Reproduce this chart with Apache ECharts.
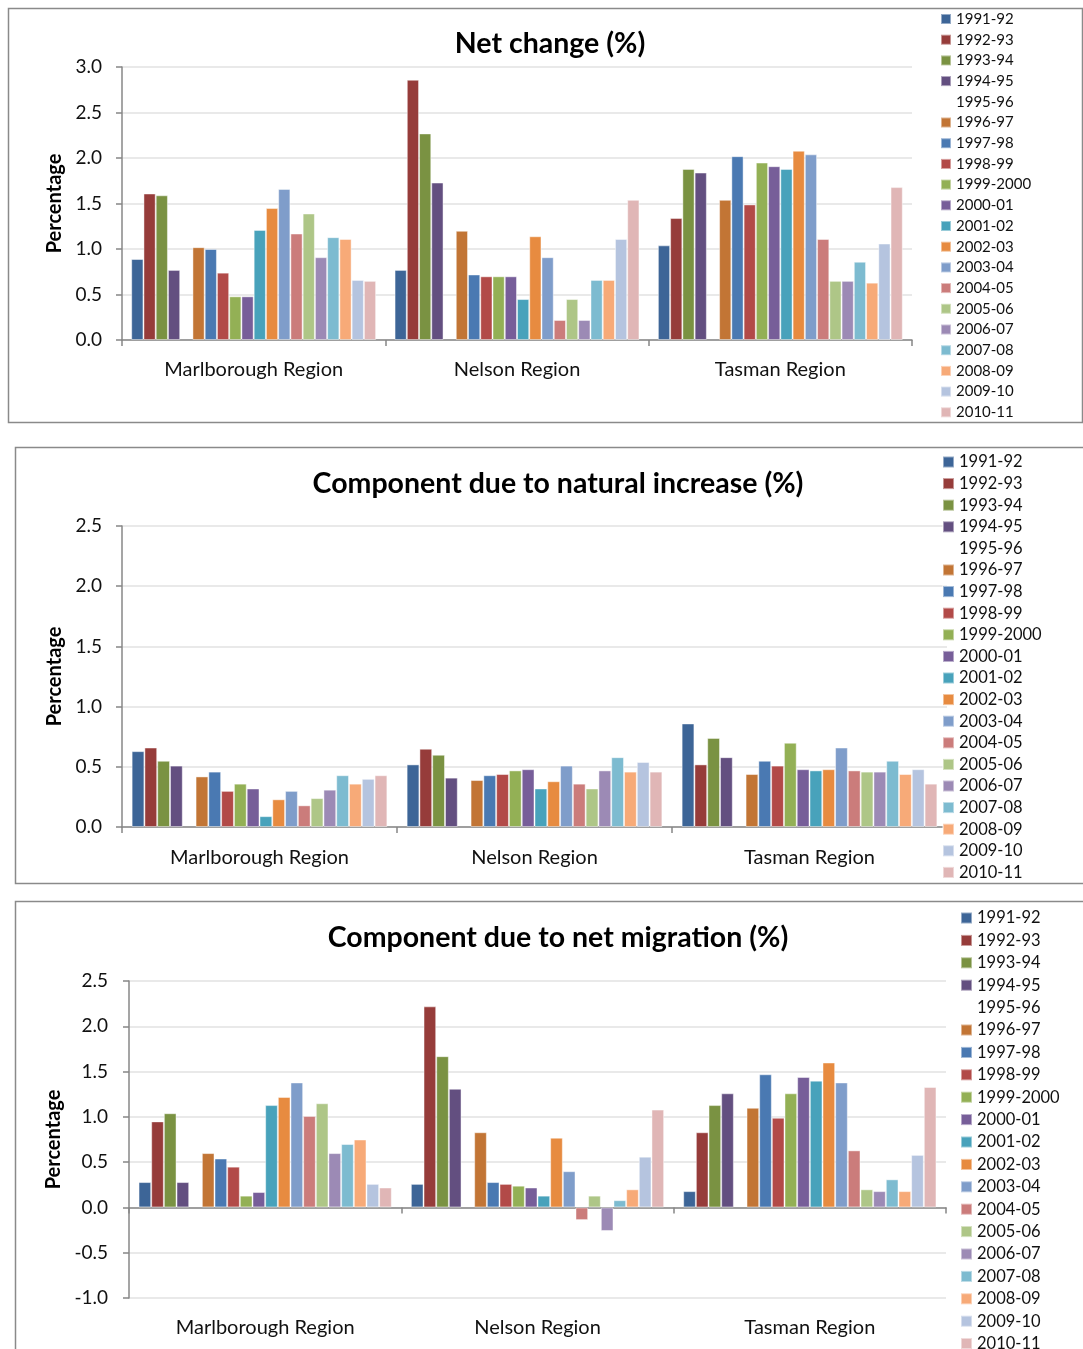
<!DOCTYPE html>
<html>
<head>
<meta charset="utf-8">
<title>Population change by region</title>
<script src="https://cdn.jsdelivr.net/npm/echarts@6/dist/echarts.min.js"></script>
<style>
  html, body { margin: 0; padding: 0; background: #ffffff; }
  #chart { width: 1083px; height: 1349px; }
</style>
</head>
<body>
<div id="chart"></div>
<script>
// Regions on the category axis
const regions = ['Marlborough Region', 'Nelson Region', 'Tasman Region'];

// Years ending 30 June (one bar series each); 1995-96 has no figures
const years = ['1991-92', '1992-93', '1993-94', '1994-95', '1995-96', '1996-97', '1997-98',
  '1998-99', '1999-2000', '2000-01', '2001-02', '2002-03', '2003-04', '2004-05', '2005-06',
  '2006-07', '2007-08', '2008-09', '2009-10', '2010-11'];

// Net change (%)
const netMarlborough = [0.89, 1.61, 1.59, 0.77, null, 1.02, 1.00, 0.74, 0.48, 0.48, 1.21, 1.45, 1.66, 1.17, 1.39, 0.91, 1.13, 1.11, 0.66, 0.65];
const netNelson      = [0.77, 2.86, 2.27, 1.73, null, 1.20, 0.72, 0.70, 0.70, 0.70, 0.45, 1.14, 0.91, 0.22, 0.45, 0.22, 0.66, 0.66, 1.11, 1.54];
const netTasman      = [1.04, 1.34, 1.88, 1.84, null, 1.54, 2.02, 1.49, 1.95, 1.91, 1.88, 2.08, 2.04, 1.11, 0.65, 0.65, 0.86, 0.63, 1.06, 1.68];

// Component due to natural increase (%)
const natMarlborough = [0.63, 0.66, 0.55, 0.51, null, 0.42, 0.46, 0.30, 0.36, 0.32, 0.09, 0.23, 0.30, 0.18, 0.24, 0.31, 0.43, 0.36, 0.40, 0.43];
const natNelson      = [0.52, 0.65, 0.60, 0.41, null, 0.39, 0.43, 0.44, 0.47, 0.48, 0.32, 0.38, 0.51, 0.36, 0.32, 0.47, 0.58, 0.46, 0.54, 0.46];
const natTasman      = [0.86, 0.52, 0.74, 0.58, null, 0.44, 0.55, 0.51, 0.70, 0.48, 0.47, 0.48, 0.66, 0.47, 0.46, 0.46, 0.55, 0.44, 0.48, 0.36];

// Component due to net migration (%)
const migMarlborough = [0.28, 0.95, 1.04, 0.28, null, 0.60, 0.54, 0.45, 0.13, 0.17, 1.13, 1.22, 1.38, 1.01, 1.15, 0.60, 0.70, 0.75, 0.26, 0.22];
const migNelson      = [0.26, 2.22, 1.67, 1.31, null, 0.83, 0.28, 0.26, 0.24, 0.22, 0.13, 0.77, 0.40, -0.14, 0.13, -0.26, 0.08, 0.20, 0.56, 1.08];
const migTasman      = [0.18, 0.83, 1.13, 1.26, null, 1.10, 1.47, 0.99, 1.26, 1.44, 1.40, 1.60, 1.38, 0.63, 0.20, 0.18, 0.31, 0.18, 0.58, 1.33];

// One colour per year
const palette = ['#3d6597', '#963c3a', '#7a9242', '#634f80', 'rgba(0,0,0,0)', '#c27535', '#4a79b2',
  '#b24a48', '#93b055', '#775e99', '#48a2bb', '#e78b40', '#7f9dca', '#cb7c7b', '#aec687',
  '#9c8ab5', '#7dbbd0', '#f7aa78', '#b5c4df', '#e0b6b6'];

const FONT = 'Lato, "Noto Sans", sans-serif';
const AXIS_GREY = '#878787';

// Layout of the three framed panels
const panels = [
  {
    title: 'Net change (%)', values: [netMarlborough, netNelson, netTasman],
    frame: { x: 8, y: 8, w: 1074, h: 414 },
    titlePos: [550, 44],
    grid: { left: 122, top: 67, width: 790, height: 273 },
    yMin: 0, yMax: 3, yLabelMargin: 20, nameGap: 53, xLabelMargin: 20,
    legend: { left: 940, top: 11.5, gap: 5.7, font: 15, icon: 10 },
    zeroAxisSeparate: false
  },
  {
    title: 'Component due to natural increase (%)', values: [natMarlborough, natNelson, natTasman],
    frame: { x: 15, y: 447, w: 1080, h: 436 },
    titlePos: [558, 484],
    grid: { left: 122, top: 526, width: 825, height: 301 },
    yMin: 0, yMax: 2.5, yLabelMargin: 20, nameGap: 53, xLabelMargin: 21,
    legend: { left: 942, top: 453.5, gap: 4.6, font: 16.5, icon: 11 },
    zeroAxisSeparate: false
  },
  {
    title: 'Component due to net migration (%)', values: [migMarlborough, migNelson, migTasman],
    frame: { x: 15, y: 901, w: 1080, h: 470 },
    titlePos: [558, 938],
    grid: { left: 129, top: 981, width: 817, height: 317 },
    yMin: -1, yMax: 2.5, yLabelMargin: 21, nameGap: 60, xLabelMargin: 20,
    legend: { left: 960, top: 909.5, gap: 5.4, font: 16.5, icon: 11 },
    // category labels sit below the plot while the baseline runs through zero
    zeroAxisSeparate: true
  }
];

const grids = [], xAxes = [], yAxes = [], legends = [], series = [], graphics = [];
const extraXAxes = [];

panels.forEach((p, pi) => {
  graphics.push({
    type: 'rect', silent: true,
    shape: { x: p.frame.x + 0.5, y: p.frame.y + 0.5, width: p.frame.w, height: p.frame.h },
    style: { fill: 'none', stroke: '#8a8a8a', lineWidth: 1.5 }
  });
  graphics.push({
    type: 'text', silent: true, x: p.titlePos[0], y: p.titlePos[1],
    style: {
      text: p.title, fill: '#000', fontFamily: FONT, fontWeight: 'bold', fontSize: 28.5,
      textAlign: 'center', textVerticalAlign: 'middle'
    }
  });

  grids.push(Object.assign({ outerBoundsMode: 'none', containLabel: false }, p.grid));

  const lineStyle = { color: AXIS_GREY, width: 1.5 };
  xAxes.push({
    type: 'category', gridIndex: pi, data: regions, position: 'bottom',
    axisLine: { show: !p.zeroAxisSeparate, onZero: !p.zeroAxisSeparate, lineStyle },
    axisTick: { show: !p.zeroAxisSeparate, length: 6, lineStyle },
    axisLabel: { margin: p.xLabelMargin, fontFamily: FONT, fontSize: 20, color: '#111' },
    splitLine: { show: false }
  });
  if (p.zeroAxisSeparate) {
    // baseline through zero with downward boundary ticks
    extraXAxes.push({
      type: 'category', gridIndex: pi, data: regions, position: 'top',
      axisLine: { show: true, onZero: true, lineStyle },
      axisTick: { show: true, inside: true, length: 6, lineStyle },
      axisLabel: { show: false },
      splitLine: { show: false }
    });
  }

  yAxes.push({
    type: 'value', gridIndex: pi, min: p.yMin, max: p.yMax, interval: 0.5,
    name: 'Percentage', nameLocation: 'middle', nameGap: p.nameGap,
    nameTextStyle: { fontFamily: FONT, fontWeight: 'bold', fontSize: 20, color: '#000' },
    axisLine: { show: true, lineStyle },
    axisTick: { show: true, length: 6, lineStyle },
    axisLabel: {
      margin: p.yLabelMargin, fontFamily: FONT, fontSize: 19, color: '#111',
      formatter: v => v.toFixed(1)
    },
    splitLine: { show: true, lineStyle: { color: '#e2e2e2', width: 1.5 } }
  });

  legends.push({
    type: 'plain', orient: 'vertical', left: p.legend.left, top: p.legend.top, height: 520, padding: 0,
    itemGap: p.legend.gap, itemWidth: p.legend.icon, itemHeight: p.legend.icon,
    icon: 'rect', data: years, selectedMode: false,
    textStyle: { fontFamily: FONT, fontSize: p.legend.font, color: '#111' }
  });

  years.forEach((year, yi) => {
    series.push({
      type: 'bar', name: year, xAxisIndex: pi, yAxisIndex: pi,
      barGap: '0%', barCategoryGap: '7%',
      data: p.values.map(region => region[yi]),
      itemStyle: {
        color: palette[yi],
        borderColor: yi === 4 ? 'rgba(0,0,0,0)' : 'rgba(255,255,255,0.45)',
        borderWidth: 1
      },
      emphasis: { disabled: true }
    });
  });
});

const chart = echarts.init(document.getElementById('chart'), null, { renderer: 'canvas' });
chart.setOption({
  animation: false,
  backgroundColor: '#ffffff',
  grid: grids,
  xAxis: xAxes.concat(extraXAxes),
  yAxis: yAxes,
  legend: legends,
  series: series,
  graphic: graphics
});
</script>
</body>
</html>
